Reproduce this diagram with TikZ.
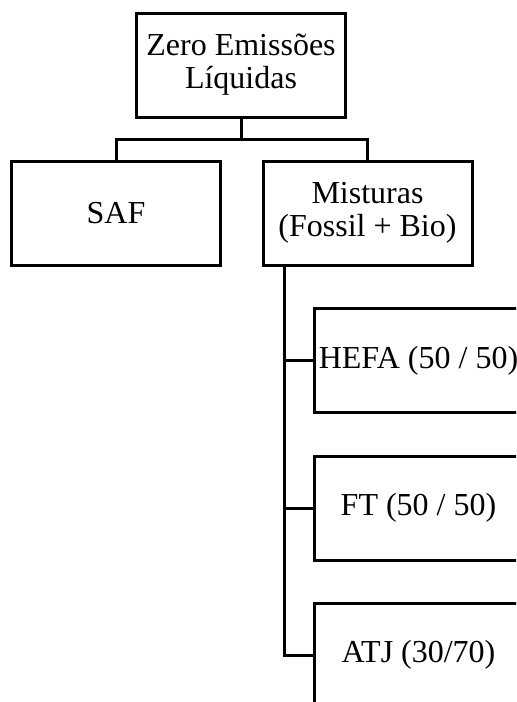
\documentclass[tikz,border=0pt]{standalone}
\usepackage{fontspec}
\setmainfont{Liberation Serif}
\tikzset{
  block/.style={draw,line width=1.5pt,minimum width=104.5pt,minimum height=52pt,
    align=center,inner sep=0pt,font=\fontsize{16}{16.5}\selectfont},
  link/.style={line width=1.5pt}
}
\begin{document}
\begin{tikzpicture}[x=0.5pt,y=-0.5pt]
\useasboundingbox (0,0) rectangle (516,702);
\clip (0,0) rectangle (516,702);
\node[block] (zero) at (241,65){Zero Emissões\\Líquidas};
\node[block] (saf) at (116,213){SAF};
\node[block] (mix) at (367.5,213){Misturas\\(Fossil + Bio)};
\node[block] (hefa) at (418.5,360.5){HEFA (50 / 50)};
\node[block] (ft) at (418.5,508){FT (50 / 50)};
\node[block] (atj) at (418.5,655){ATJ (30/70)};
\coordinate (split) at (241,139);
\coordinate (spine) at (284,265);
\draw[link] (zero) -- (split);
\draw[link] (saf.north) |- (split) -| (mix.north);
\draw[link] (spine) |- (hefa.west);
\draw[link] (spine) |- (ft.west);
\draw[link] (spine) |- (atj.west);
\end{tikzpicture}
\end{document}
